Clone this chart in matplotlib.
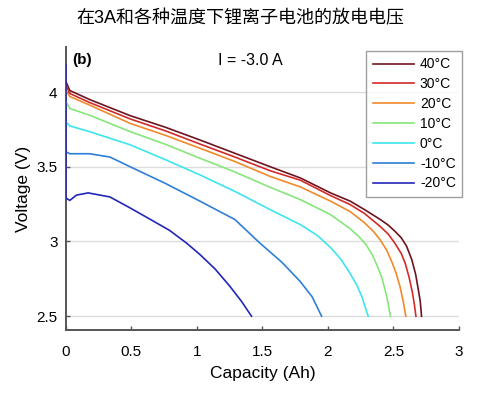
import matplotlib
matplotlib.use("Agg")
import matplotlib.pyplot as plt

plt.rcParams['font.family'] = ['Liberation Sans', 'Noto Sans CJK SC', 'DejaVu Sans']

# discharge curves: capacity (Ah) vs voltage (V)
cap_40 = [0, 0.03, 0.18, 0.49, 0.76, 1.02, 1.29, 1.56, 1.79, 2.02, 2.17, 2.28, 2.40, 2.46, 2.51, 2.56, 2.60, 2.64, 2.67, 2.69, 2.705, 2.715]
v_40 = [4.07, 4.01, 3.95, 3.842, 3.764, 3.68, 3.59, 3.50, 3.425, 3.325, 3.27, 3.213, 3.147, 3.11, 3.07, 3.025, 2.97, 2.88, 2.78, 2.68, 2.60, 2.5]

cap_30 = [0, 0.03, 0.18, 0.49, 0.76, 1.02, 1.29, 1.56, 1.79, 2.02, 2.17, 2.28, 2.40, 2.46, 2.51, 2.56, 2.59, 2.62, 2.645, 2.66, 2.672]
v_30 = [4.045, 3.99, 3.93, 3.82, 3.74, 3.653, 3.565, 3.473, 3.41, 3.307, 3.247, 3.187, 3.10, 3.05, 2.99, 2.92, 2.855, 2.76, 2.66, 2.58, 2.5]

cap_20 = [0, 0.03, 0.18, 0.49, 0.76, 1.02, 1.29, 1.56, 1.79, 2.02, 2.17, 2.28, 2.35, 2.40, 2.45, 2.49, 2.52, 2.55, 2.575, 2.595]
v_20 = [4.01, 3.97, 3.913, 3.79, 3.71, 3.625, 3.535, 3.435, 3.365, 3.27, 3.20, 3.125, 3.065, 3.01, 2.94, 2.86, 2.79, 2.70, 2.60, 2.5]

cap_10 = [0, 0.03, 0.18, 0.49, 0.76, 1.02, 1.29, 1.56, 1.79, 2.02, 2.17, 2.24, 2.29, 2.34, 2.38, 2.415, 2.45, 2.478]
v_10 = [3.935, 3.89, 3.845, 3.735, 3.65, 3.558, 3.465, 3.362, 3.28, 3.18, 3.085, 3.03, 2.98, 2.91, 2.83, 2.75, 2.63, 2.5]

cap_0 = [0, 0.03, 0.18, 0.49, 0.76, 1.02, 1.29, 1.56, 1.79, 1.92, 2.02, 2.10, 2.17, 2.22, 2.26, 2.285, 2.308]
v_0 = [3.80, 3.773, 3.735, 3.647, 3.547, 3.447, 3.335, 3.213, 3.113, 3.04, 2.96, 2.88, 2.785, 2.71, 2.63, 2.56, 2.5]

cap_m10 = [0, 0.03, 0.18, 0.336, 0.49, 0.756, 1.023, 1.29, 1.48, 1.65, 1.786, 1.88, 1.952]
v_m10 = [3.60, 3.587, 3.587, 3.565, 3.50, 3.39, 3.27, 3.147, 2.99, 2.86, 2.735, 2.63, 2.5]

cap_m20 = [0, 0, 0.03, 0.08, 0.17, 0.336, 0.489, 0.64, 0.79, 0.92, 1.023, 1.14, 1.252, 1.34, 1.417]
v_m20 = [4.18, 3.29, 3.275, 3.31, 3.325, 3.298, 3.225, 3.15, 3.075, 2.99, 2.913, 2.815, 2.70, 2.60, 2.5]

labels = ['40°C', '30°C', '20°C', '10°C', '0°C', '-10°C', '-20°C']
colors = ['#6e1420', '#d42a2a', '#f08a2a', '#86e67a', '#3ee4ee', '#2f7fd8', '#2226b8']

curves = [(cap_40, v_40), (cap_30, v_30), (cap_20, v_20), (cap_10, v_10),
          (cap_0, v_0), (cap_m10, v_m10), (cap_m20, v_m20)]

fig = plt.figure(figsize=(4.81, 3.93), dpi=100)
ax = fig.add_axes([0.137, 0.160, 0.817, 0.720])

for (cap, volt), lab, col in zip(curves, labels, colors):
    ax.plot(cap, volt, color=col, lw=1.2, label=lab, zorder=3)

ax.set_xlim(0, 3)
ax.set_ylim(2.407, 4.3)
ax.set_xticks([0, 0.5, 1, 1.5, 2, 2.5, 3])
ax.set_xticklabels(['0', '0.5', '1', '1.5', '2', '2.5', '3'])
ax.set_yticks([2.5, 3, 3.5, 4])
ax.set_yticklabels(['2.5', '3', '3.5', '4'])
ax.yaxis.grid(True, color='#dcdcdc', lw=1)
ax.set_axisbelow(True)

for s in ['top', 'right']:
    ax.spines[s].set_visible(False)
for s in ['left', 'bottom']:
    ax.spines[s].set_color('#555555')
    ax.spines[s].set_linewidth(1.4)
ax.tick_params(direction='in', length=3, width=1, color='#555555', labelsize=11)
ax.tick_params(axis='x', pad=11)
ax.tick_params(axis='y', pad=6)

ax.set_xlabel('Capacity (Ah)', fontsize=12.5, labelpad=5)
ax.set_ylabel('Voltage (V)', fontsize=12.5, labelpad=4)

ax.text(0.045, 4.213, '(b)', fontsize=11, fontweight='bold', va='center', ha='left')
ax.text(1.41, 4.213, 'I = -3.0 A', fontsize=11.5, va='center', ha='center')

leg = ax.legend(loc='upper right', bbox_to_anchor=(1.008, 0.986), fontsize=10,
                frameon=True, fancybox=False, handlelength=3.0, handletextpad=0.4,
                labelspacing=0.42, borderpad=0.45, borderaxespad=0)
leg.get_frame().set_edgecolor('#888888')
leg.get_frame().set_linewidth(1)

fig.text(0.5, 0.953, '在3A和各种温度下锂离子电池的放电电压', fontsize=13, ha='center', va='center')

fig.savefig('out.png', dpi=100)
